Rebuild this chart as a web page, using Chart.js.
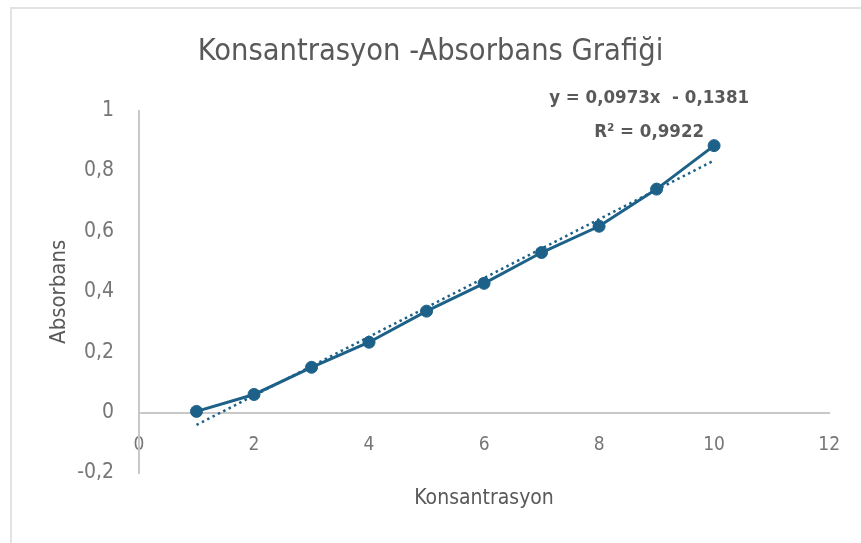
<!doctype html>
<html lang="tr">

<head>
  <meta charset="utf-8">
  <title>Konsantrasyon -Absorbans Grafiği</title>
  <style>
    html, body { margin: 0; padding: 0; background: #fff; }
    #wrap { position: relative; width: 861px; height: 543px; overflow: hidden; }
    #frame {
      position: absolute; left: 10px; top: 7px; right: -4px; bottom: -4px;
      border-top: 2px solid #e3e3e3; border-left: 2px solid #e3e3e3;
    }
    #chart { position: absolute; left: 0; top: 0; }
  </style>
</head>

<body>
  <div id="wrap">
    <div id="frame"></div>
    <canvas id="chart" width="861" height="543"></canvas>
  </div>

  <script src="https://cdn.jsdelivr.net/npm/chart.js"></script>

  <script>
    // ölçüm verileri
    const konsantrasyon = [1, 2, 3, 4, 5, 6, 7, 8, 9, 10];
    const absorbans = [0.004, 0.06, 0.15, 0.233, 0.336, 0.428, 0.53, 0.617, 0.74, 0.884];

    // doğrusal eğilim çizgisi
    const egim = 0.0973;
    const kesim = -0.1381;
    const r2 = 0.9922;
    const trendX = [1, 10];

    const FONT = "'Liberation Sans Narrow', 'DejaVu Sans Condensed', sans-serif";
    const BLUE = '#1d6188';

    function virgul(v, d) {
      return v.toFixed(d).replace('.', ',');
    }

    const trendPoints = trendX.map(x => ({ x: x, y: egim * x + kesim }));
    const dataPoints = konsantrasyon.map((x, i) => ({ x: x, y: absorbans[i] }));

    const denklemPlugin = {
      id: 'denklem',
      afterDatasetsDraw(chart) {
        const ctx = chart.ctx;
        const xs = chart.scales.x, ys = chart.scales.y;
        const cx = xs.getPixelForValue(8.87);
        ctx.save();
        ctx.fillStyle = '#595959';
        ctx.font = 'bold 18.5px ' + FONT;
        ctx.textAlign = 'center';
        ctx.textBaseline = 'middle';
        ctx.fillText('y = ' + virgul(egim, 4) + 'x  - ' + virgul(-kesim, 4), cx, ys.getPixelForValue(1.04));
        ctx.fillText('R² = ' + virgul(r2, 4), cx, ys.getPixelForValue(0.929));
        ctx.restore();
      }
    };

    new Chart(document.getElementById('chart'), {
      type: 'scatter',
      data: {
        datasets: [
          {
            data: trendPoints,
            showLine: true,
            borderColor: BLUE,
            borderWidth: 2.5,
            borderDash: [2.5, 3.5],
            pointRadius: 0
          },
          {
            data: dataPoints,
            showLine: true,
            borderColor: BLUE,
            backgroundColor: BLUE,
            borderWidth: 3,
            pointRadius: 6,
            pointBorderWidth: 1
          }
        ]
      },
      options: {
        responsive: false,
        animation: false,
        layout: {
          padding: { left: 0, right: 0, top: 0, bottom: 70 }
        },
        plugins: {
          legend: { display: false },
          tooltip: { enabled: false },
          title: {
            display: true,
            text: 'Konsantrasyon -Absorbans Grafiği',
            color: '#595959',
            font: { family: FONT, size: 30.5, weight: 'normal' },
            padding: { top: 34, bottom: 40 }
          }
        },
        scales: {
          x: {
            type: 'linear',
            position: { y: 0 },
            min: 0,
            max: 12,
            grid: { display: false, drawTicks: false },
            border: { display: true, color: '#c8c8c8', width: 2 },
            ticks: {
              stepSize: 2,
              padding: 21,
              color: '#767676',
              font: { family: FONT, size: 19 }
            },
            title: {
              display: true,
              text: 'Konsantrasyon',
              color: '#595959',
              font: { family: FONT, size: 21 },
              padding: { top: 9, bottom: 0 }
            }
          },
          y: {
            type: 'linear',
            min: -0.2,
            max: 1,
            grid: { display: false, drawTicks: false },
            border: { display: true, color: '#c8c8c8', width: 2 },
            afterFit(scale) { scale.width = 139; },
            ticks: {
              stepSize: 0.2,
              padding: 25,
              color: '#767676',
              font: { family: FONT, size: 21 },
              callback: v => String(Math.round(v * 10) / 10).replace('.', ',')
            },
            title: {
              display: true,
              text: 'Absorbans',
              color: '#595959',
              font: { family: FONT, size: 22 },
              padding: { top: 46.5, bottom: 0 }
            }
          },
          // boş sağ kenar boşluğu
          bosluk: {
            type: 'linear',
            axis: 'y',
            position: 'right',
            grid: { display: false, drawTicks: false },
            border: { display: false },
            ticks: { display: false },
            afterFit(scale) { scale.width = 31; }
          }
        }
      },
      plugins: [denklemPlugin]
    });
  </script>

</body>

</html>
